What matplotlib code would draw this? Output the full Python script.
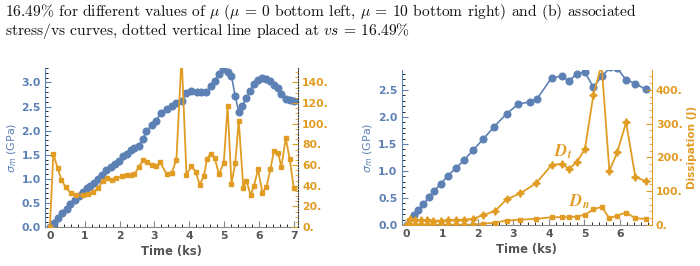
import matplotlib
matplotlib.use("Agg")
import matplotlib.pyplot as plt
from matplotlib.ticker import MultipleLocator, FuncFormatter

BLUE = "#5E81B5"
ORANGE = "#E19C24"
GRAY = "#555555"

# ---------------- data: left panel (mu = 0) ----------------
t_left_sigma = [0.0, 0.12, 0.24, 0.35, 0.48, 0.59, 0.72, 0.83, 0.96, 1.06, 1.15, 1.27, 1.39,
                1.5, 1.62, 1.74, 1.86, 1.98, 2.1, 2.2, 2.32, 2.42, 2.55, 2.68, 2.77, 2.92,
                3.04, 3.18, 3.35, 3.49, 3.63, 3.78, 3.92, 4.06, 4.21, 4.35, 4.49, 4.61, 4.73,
                4.85, 4.97, 5.11, 5.21, 5.32, 5.42, 5.51, 5.64, 5.75, 5.86, 5.97, 6.1, 6.21,
                6.31, 6.43, 6.55, 6.64, 6.77, 6.88, 7.0]
sigma_left = [0.0, 0.09, 0.19, 0.29, 0.37, 0.47, 0.56, 0.65, 0.72, 0.8, 0.85, 0.92, 1.0,
              1.07, 1.19, 1.24, 1.31, 1.38, 1.47, 1.52, 1.59, 1.63, 1.69, 1.83, 1.99, 2.11,
              2.19, 2.37, 2.44, 2.51, 2.57, 2.62, 2.78, 2.83, 2.81, 2.81, 2.81, 2.92, 3.04,
              3.18, 3.27, 3.22, 3.14, 2.71, 2.39, 2.51, 2.67, 2.83, 2.97, 3.06, 3.09, 3.07,
              3.04, 2.95, 2.88, 2.76, 2.65, 2.63, 2.62]

t_left_diss = [0.0, 0.1, 0.22, 0.33, 0.45, 0.6, 0.76, 0.94, 1.1, 1.24, 1.39, 1.53, 1.65, 1.77,
               1.91, 2.06, 2.2, 2.32, 2.42, 2.55, 2.68, 2.79, 2.92, 3.04, 3.17, 3.35, 3.49,
               3.63, 3.78, 3.92, 4.06, 4.19, 4.3, 4.42, 4.51, 4.61, 4.73, 4.85, 4.99, 5.1,
               5.21, 5.32, 5.42, 5.55, 5.64, 5.76, 5.86, 5.97, 6.1, 6.21, 6.33, 6.43, 6.55,
               6.64, 6.77, 6.88, 7.0]
diss_left = [0, 71, 57, 46, 38.5, 33, 31, 31, 31.7, 34, 38, 45, 47, 46, 47, 49, 50, 50, 51,
             58, 65, 62.5, 60, 59, 62.5, 51, 52, 65, 165, 50.5, 59, 53, 41, 49.5, 66, 71, 67,
             51, 62, 117, 42, 62, 103, 38, 45, 31, 40, 56, 33, 38.5, 56, 74, 72, 58, 86, 66, 38]

# ---------------- data: right panel (mu = 10) ----------------
t_right_sigma = [0.0, 0.2, 0.33, 0.47, 0.63, 0.77, 0.96, 1.15, 1.38, 1.61, 1.86, 2.15, 2.46,
                 2.81, 3.14, 3.47, 3.66, 4.08, 4.36, 4.57, 4.78, 5.01, 5.25, 5.48, 5.73, 5.92,
                 6.17, 6.43, 6.72]
sigma_right = [0.0, 0.18, 0.28, 0.39, 0.51, 0.63, 0.76, 0.91, 1.05, 1.2, 1.38, 1.59, 1.82,
               2.06, 2.24, 2.28, 2.33, 2.73, 2.75, 2.67, 2.8, 2.83, 2.55, 2.75, 2.92, 2.9,
               2.69, 2.62, 2.51]

t_right_diss = [0.0, 0.09, 0.23, 0.39, 0.56, 0.75, 0.96, 1.17, 1.39, 1.61, 1.86, 2.16, 2.48,
                2.81, 3.2, 3.63, 4.08, 4.36, 4.57, 4.78, 5.01, 5.25, 5.48, 5.7, 5.92, 6.17,
                6.43, 6.72]
diss_t = [0, 17, 15, 15, 14, 13, 13, 14, 15, 16, 18, 30, 41, 76, 94, 123, 178, 181, 166, 186,
          224, 385, 475, 160, 215, 304, 142, 130]
diss_n = [0, 1, 1, 1, 1, 1, 1, 1, 1, 1, 1, 4, 7, 13, 16, 18, 23, 23, 23, 25, 30, 46, 54, 20,
          28, 37, 20, 18]

caption_1 = r"16.49% for different values of $\mu$ ($\mu$ = 0 bottom left, $\mu$ = 10 bottom right) and (b) associated"
caption_2 = r"stress/vs curves, dotted vertical line placed at $vs$ = 16.49%"

# ---------------- figure ----------------
fig = plt.figure(figsize=(7.0, 2.66), dpi=100)
W, H = 700.0, 266.0

cap_kw = dict(fontsize=11.2, family="cmr10", math_fontfamily="cm", color="#111111",
              ha="left", va="top")
fig.text(5 / W, 1 - 2 / H, caption_1, **cap_kw)
fig.text(5 / W, 1 - 21 / H, caption_2, **cap_kw)

TICK_FS = 7.8


def style_axes(ax, ax2):
    ax.tick_params(axis="both", which="both", direction="in", labelsize=TICK_FS)
    ax.tick_params(axis="both", which="major", length=4, width=0.8)
    ax.tick_params(axis="both", which="minor", length=2, width=0.6)
    ax.tick_params(axis="x", colors="#888888", labelcolor=GRAY, pad=3)
    ax.tick_params(axis="y", colors=BLUE, labelcolor=BLUE, pad=3)
    ax2.tick_params(axis="y", which="both", direction="in", colors=ORANGE,
                    labelcolor=ORANGE, labelsize=TICK_FS, pad=3)
    ax2.tick_params(axis="y", which="major", length=4, width=0.8)
    ax2.tick_params(axis="y", which="minor", length=2, width=0.6)
    for lab in ax.get_xticklabels() + ax.get_yticklabels() + ax2.get_yticklabels():
        lab.set_fontweight("bold")
    ax.spines["left"].set_color(BLUE)
    ax.spines["bottom"].set_color("#888888")
    ax.spines["top"].set_visible(False)
    ax2.spines["top"].set_visible(False)
    ax2.spines["left"].set_visible(False)
    ax2.spines["bottom"].set_visible(False)
    ax2.spines["right"].set_color(ORANGE)
    ax.spines["right"].set_visible(False)
    ax.xaxis.set_major_locator(MultipleLocator(1))
    ax.xaxis.set_minor_locator(MultipleLocator(0.2))
    ax.yaxis.set_major_locator(MultipleLocator(0.5))
    ax.yaxis.set_minor_locator(MultipleLocator(0.1))
    ax.yaxis.set_major_formatter(FuncFormatter(lambda v, p: f"{v:.1f}"))
    ax2.yaxis.set_major_formatter(FuncFormatter(lambda v, p: f"{v:.0f}."))
    ax.set_xlabel("Time (ks)", color=GRAY, fontsize=8.3, fontweight="bold", labelpad=3)


# ---- left panel ----
axL = fig.add_axes([45 / W, 1 - 227 / H, 253 / W, 159 / H])
axL2 = axL.twinx()
axL.plot(t_left_sigma, sigma_left, "-o", color=BLUE, lw=1.2, ms=4.8)
axL2.plot(t_left_diss, diss_left, "-s", color=ORANGE, lw=1.3, ms=3.2)
axL.set_xlim(-0.14, 7.12)
axL.set_ylim(0, 3.3)
axL2.set_ylim(0, 154)
axL2.yaxis.set_major_locator(MultipleLocator(20))
axL2.yaxis.set_minor_locator(MultipleLocator(5))
axL.set_ylabel(r"$\sigma_m$ (GPa)", color=BLUE, fontsize=8, labelpad=2,
               math_fontfamily="dejavusans")
style_axes(axL, axL2)
axL2.spines["right"].set_linestyle((0, (1, 1.5)))
axL2.spines["right"].set_color("#333333")

# ---- right panel ----
axR = fig.add_axes([401.7 / W, 1 - 225 / H, 250 / W, 155 / H])
axR2 = axR.twinx()
axR.plot(t_right_sigma, sigma_right, "-o", color=BLUE, lw=1.2, ms=4.8)
axR2.plot(t_right_diss, diss_t, "-", color=ORANGE, lw=1.3, marker=(4, 1, 0), ms=5.5)
axR2.plot(t_right_diss, diss_n, "-s", color=ORANGE, lw=1.3, ms=3.2)
axR.set_xlim(-0.14, 6.89)
axR.set_ylim(0, 2.87)
axR2.set_ylim(0, 459)
axR2.yaxis.set_major_locator(MultipleLocator(100))
axR2.yaxis.set_minor_locator(MultipleLocator(20))
axR.set_ylabel(r"$\sigma_m$ (GPa)", color=BLUE, fontsize=8, labelpad=2,
               math_fontfamily="dejavusans")
axR2.set_ylabel("Dissipation (J)", color=ORANGE, fontsize=7.6, fontweight="bold", labelpad=3)
style_axes(axR, axR2)
axR2.text(4.4, 217, r"$\mathbfit{D_t}$", color=ORANGE, fontsize=12, ha="center",
          va="center", math_fontfamily="stix")
axR2.text(4.87, 69, r"$\mathbfit{D_n}$", color=ORANGE, fontsize=12, ha="center",
          va="center", math_fontfamily="stix")

fig.savefig("out.png", dpi=100)
